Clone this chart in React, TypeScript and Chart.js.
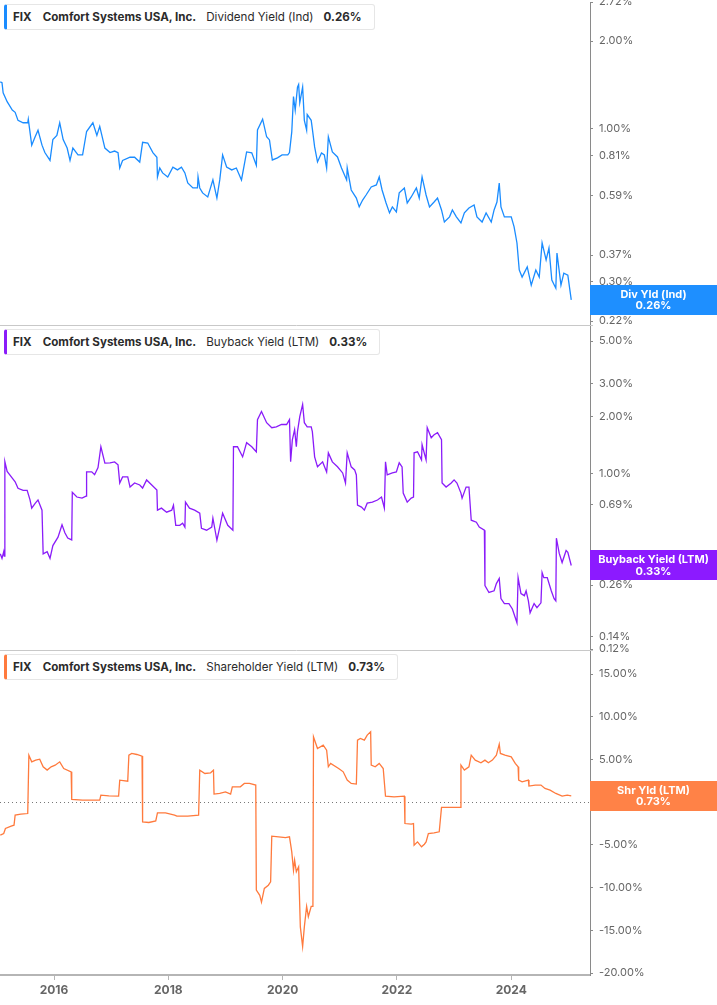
import React, { useEffect, useRef } from 'react';
import { Chart, registerables } from 'chart.js';

Chart.register(...registerables);

// ---- Data (decimal year, value in %) ----
const yearTicks = [2016, 2018, 2020, 2022, 2024];

const dividendYield: [number, number][] = [
  [2015.06, 1.45], [2015.09, 1.44], [2015.11, 1.33], [2015.18, 1.24], [2015.27, 1.16], [2015.32, 1.14],
  [2015.37, 1.07], [2015.46, 1.05], [2015.54, 1.05], [2015.55, 1.08], [2015.61, 0.88], [2015.67, 0.94],
  [2015.72, 0.99], [2015.79, 0.88], [2015.84, 0.83], [2015.93, 0.78], [2015.98, 0.92], [2016.05, 0.95],
  [2016.10, 1.05], [2016.16, 0.92], [2016.23, 0.86], [2016.28, 0.78], [2016.33, 0.86], [2016.42, 0.815],
  [2016.50, 0.815], [2016.57, 0.98], [2016.68, 1.05], [2016.75, 0.95], [2016.80, 1.02], [2016.89, 0.86],
  [2016.98, 0.83], [2017.06, 0.84], [2017.12, 0.83], [2017.15, 0.735], [2017.20, 0.78], [2017.33, 0.80],
  [2017.41, 0.80], [2017.50, 0.77], [2017.55, 0.90], [2017.64, 0.895], [2017.73, 0.83], [2017.80, 0.80],
  [2017.81, 0.685], [2017.85, 0.735], [2017.90, 0.707], [2017.99, 0.685], [2018.08, 0.74], [2018.16, 0.724],
  [2018.23, 0.74], [2018.29, 0.707], [2018.34, 0.653], [2018.43, 0.628], [2018.51, 0.628], [2018.52, 0.685],
  [2018.55, 0.628], [2018.60, 0.604], [2018.69, 0.585], [2018.78, 0.669], [2018.85, 0.58], [2018.90, 0.669],
  [2018.95, 0.815], [2019.02, 0.741], [2019.11, 0.724], [2019.19, 0.735], [2019.28, 0.669], [2019.37, 0.834],
  [2019.46, 0.828], [2019.54, 0.75], [2019.56, 0.992], [2019.65, 1.08], [2019.72, 0.94], [2019.77, 0.917],
  [2019.82, 0.783], [2019.91, 0.796], [2019.99, 0.815], [2020.09, 0.815], [2020.12, 0.83], [2020.16, 0.977],
  [2020.19, 1.29], [2020.22, 1.16], [2020.26, 1.39], [2020.28, 1.42], [2020.30, 1.23], [2020.35, 1.39],
  [2020.38, 1.07], [2020.42, 0.99], [2020.43, 1.12], [2020.50, 1.07], [2020.52, 1.00], [2020.56, 0.868],
  [2020.61, 0.771], [2020.68, 0.828], [2020.73, 0.815], [2020.77, 0.735], [2020.80, 0.939], [2020.87, 0.834],
  [2020.96, 0.802], [2021.03, 0.735], [2021.12, 0.669], [2021.13, 0.735], [2021.20, 0.618], [2021.29, 0.58],
  [2021.34, 0.541], [2021.40, 0.571], [2021.46, 0.594], [2021.55, 0.633], [2021.64, 0.643], [2021.69, 0.685],
  [2021.74, 0.618], [2021.81, 0.558], [2021.87, 0.516], [2021.92, 0.541], [2021.99, 0.52], [2022.04, 0.604],
  [2022.13, 0.628], [2022.18, 0.558], [2022.25, 0.585], [2022.34, 0.628], [2022.39, 0.58], [2022.44, 0.685],
  [2022.51, 0.594], [2022.57, 0.541], [2022.65, 0.562], [2022.71, 0.58], [2022.78, 0.528], [2022.83, 0.48],
  [2022.92, 0.50], [2022.97, 0.528], [2023.04, 0.50], [2023.12, 0.477], [2023.18, 0.516], [2023.26, 0.536],
  [2023.35, 0.549], [2023.40, 0.50], [2023.49, 0.48], [2023.56, 0.516], [2023.65, 0.48], [2023.70, 0.528],
  [2023.75, 0.562], [2023.79, 0.653], [2023.82, 0.541], [2023.88, 0.50], [2023.93, 0.50], [2024.00, 0.50],
  [2024.05, 0.462], [2024.10, 0.407], [2024.14, 0.329], [2024.19, 0.311], [2024.28, 0.337], [2024.35, 0.292],
  [2024.43, 0.329], [2024.49, 0.311], [2024.54, 0.407], [2024.61, 0.356], [2024.66, 0.391], [2024.71, 0.304],
  [2024.78, 0.285], [2024.80, 0.376], [2024.87, 0.292], [2024.92, 0.321], [2024.99, 0.316], [2025.05, 0.26],
];

const buybackYield: [number, number][] = [
  [2015.06, 0.38], [2015.09, 0.36], [2015.12, 0.39], [2015.13, 0.37], [2015.14, 1.16], [2015.18, 1.03],
  [2015.27, 0.95], [2015.32, 0.91], [2015.37, 0.84], [2015.46, 0.82], [2015.53, 0.82], [2015.58, 0.73],
  [2015.61, 0.66], [2015.67, 0.70], [2015.72, 0.73], [2015.79, 0.645], [2015.81, 0.38], [2015.88, 0.39],
  [2015.93, 0.36], [2015.98, 0.42], [2016.07, 0.465], [2016.14, 0.54], [2016.19, 0.49], [2016.24, 0.46],
  [2016.31, 0.45], [2016.32, 0.80], [2016.40, 0.756], [2016.49, 0.746], [2016.56, 0.765], [2016.57, 1.025],
  [2016.66, 1.025], [2016.71, 0.99], [2016.77, 1.08], [2016.82, 1.39], [2016.89, 1.14], [2016.98, 1.144],
  [2017.06, 1.157], [2017.12, 1.116], [2017.15, 0.896], [2017.20, 0.964], [2017.29, 0.964], [2017.33, 0.853],
  [2017.41, 0.896], [2017.50, 0.875], [2017.55, 0.843], [2017.62, 0.93], [2017.71, 0.875], [2017.80, 0.823],
  [2017.81, 0.645], [2017.88, 0.661], [2017.97, 0.629], [2018.06, 0.645], [2018.09, 0.685], [2018.13, 0.537],
  [2018.20, 0.537], [2018.25, 0.551], [2018.29, 0.525], [2018.30, 0.711], [2018.37, 0.661], [2018.46, 0.645],
  [2018.55, 0.622], [2018.58, 0.518], [2018.67, 0.506], [2018.76, 0.525], [2018.78, 0.585], [2018.85, 0.448],
  [2018.90, 0.525], [2018.95, 0.622], [2019.04, 0.537], [2019.13, 0.506], [2019.14, 1.39], [2019.21, 1.39],
  [2019.30, 1.23], [2019.37, 1.46], [2019.46, 1.39], [2019.54, 1.307], [2019.56, 1.93], [2019.63, 2.13],
  [2019.72, 1.86], [2019.81, 1.75], [2019.89, 1.77], [2019.98, 1.82], [2020.07, 1.82], [2020.12, 1.93],
  [2020.14, 1.16], [2020.17, 1.51], [2020.21, 1.71], [2020.24, 1.39], [2020.26, 1.67], [2020.30, 2.00],
  [2020.35, 2.32], [2020.38, 1.86], [2020.43, 1.77], [2020.50, 1.77], [2020.52, 1.67], [2020.56, 1.23],
  [2020.61, 1.09], [2020.70, 1.157], [2020.77, 1.025], [2020.80, 1.29], [2020.87, 1.157], [2020.96, 1.09],
  [2021.05, 1.012], [2021.10, 0.896], [2021.13, 1.29], [2021.20, 1.09], [2021.26, 1.05], [2021.29, 0.988],
  [2021.31, 0.685], [2021.38, 0.669], [2021.43, 0.645], [2021.48, 0.702], [2021.57, 0.711], [2021.66, 0.729],
  [2021.73, 0.756], [2021.78, 0.661], [2021.80, 1.157], [2021.83, 0.988], [2021.92, 1.012], [2021.99, 1.025],
  [2022.04, 1.144], [2022.09, 1.089], [2022.11, 0.793], [2022.18, 0.711], [2022.25, 0.746], [2022.29, 0.756],
  [2022.30, 1.291], [2022.36, 1.307], [2022.43, 1.186], [2022.44, 1.424], [2022.51, 1.186], [2022.53, 1.75],
  [2022.60, 1.55], [2022.65, 1.608], [2022.71, 1.648], [2022.78, 1.513], [2022.79, 0.896], [2022.86, 0.853],
  [2022.95, 0.896], [2023.00, 0.93], [2023.05, 0.896], [2023.12, 0.793], [2023.14, 0.746], [2023.21, 0.853],
  [2023.26, 0.853], [2023.30, 0.571], [2023.39, 0.557], [2023.44, 0.525], [2023.53, 0.506], [2023.54, 0.259],
  [2023.61, 0.238], [2023.70, 0.243], [2023.74, 0.265], [2023.79, 0.282], [2023.82, 0.221], [2023.88, 0.208],
  [2023.96, 0.208], [2024.02, 0.195], [2024.10, 0.165], [2024.12, 0.285], [2024.17, 0.235], [2024.23, 0.229],
  [2024.26, 0.243], [2024.30, 0.215], [2024.33, 0.186], [2024.40, 0.208], [2024.45, 0.198], [2024.52, 0.21],
  [2024.54, 0.303], [2024.57, 0.285], [2024.63, 0.285], [2024.70, 0.243], [2024.75, 0.221], [2024.78, 0.215],
  [2024.79, 0.459], [2024.84, 0.382], [2024.89, 0.342], [2024.96, 0.396], [2024.99, 0.387], [2025.05, 0.33],
];

const shareholderYield: [number, number][] = [
  [2015.06, -3.86], [2015.12, -3.67], [2015.15, -3.08], [2015.25, -2.81], [2015.30, -2.70], [2015.32, -1.52],
  [2015.42, -1.41], [2015.54, -1.33], [2015.56, 5.5], [2015.61, 4.72], [2015.68, 4.92], [2015.75, 5.03],
  [2015.81, 4.14], [2015.88, 3.75], [2015.95, 4.14], [2016.02, 4.33], [2016.10, 4.72], [2016.17, 3.94],
  [2016.30, 3.55], [2016.31, 0.31], [2016.50, 0.23], [2016.80, 0.23], [2016.82, 0.82], [2016.96, 0.74],
  [2017.13, 0.70], [2017.15, 2.58], [2017.29, 2.46], [2017.31, 5.50], [2017.36, 5.70], [2017.45, 5.58],
  [2017.54, 5.39], [2017.55, -2.30], [2017.66, -2.38], [2017.78, -2.19], [2017.81, -1.25], [2017.95, -1.25],
  [2018.11, -1.52], [2018.15, -1.64], [2018.34, -1.64], [2018.53, -1.52], [2018.55, 3.75], [2018.64, 3.36],
  [2018.74, 3.44], [2018.79, 3.75], [2018.80, 0.94], [2018.90, 1.02], [2019.00, 1.21], [2019.09, 0.94],
  [2019.12, 1.80], [2019.26, 1.80], [2019.33, 2.19], [2019.42, 2.19], [2019.53, 2.0], [2019.54, -10.3],
  [2019.60, -10.9], [2019.63, -11.7], [2019.68, -10.1], [2019.75, -9.72], [2019.79, -9.33], [2019.81, -3.98],
  [2019.93, -4.06], [2020.05, -4.14], [2020.12, -4.06], [2020.16, -5.82], [2020.19, -7.96], [2020.21, -6.79],
  [2020.24, -8.15], [2020.28, -7.57], [2020.31, -14.6], [2020.35, -16.9], [2020.38, -14.6], [2020.42, -12.2],
  [2020.45, -13.4], [2020.50, -12.2], [2020.53, -12.2], [2020.54, 7.65], [2020.61, 6.28], [2020.71, 6.67],
  [2020.77, 6.09], [2020.80, 4.14], [2020.84, 4.53], [2020.98, 3.94], [2021.06, 3.55], [2021.13, 2.58],
  [2021.20, 2.19], [2021.29, 2.11], [2021.31, 7.26], [2021.36, 7.46], [2021.43, 7.26], [2021.48, 7.85],
  [2021.54, 8.24], [2021.55, 4.33], [2021.62, 4.14], [2021.69, 4.53], [2021.76, 3.94], [2021.80, 0.70],
  [2021.95, 0.62], [2022.13, 0.70], [2022.14, -2.50], [2022.25, -2.58], [2022.29, -2.50], [2022.30, -5.04],
  [2022.36, -4.65], [2022.43, -5.23], [2022.48, -4.92], [2022.51, -4.65], [2022.55, -3.67], [2022.65, -3.59],
  [2022.74, -3.47], [2022.78, -0.62], [2022.95, -0.62], [2023.11, -0.62], [2023.12, 4.33], [2023.18, 3.75],
  [2023.26, 4.14], [2023.30, 5.50], [2023.37, 4.92], [2023.47, 4.61], [2023.54, 4.92], [2023.60, 4.61],
  [2023.67, 4.92], [2023.74, 5.50], [2023.79, 6.79], [2023.81, 5.70], [2023.89, 5.50], [2024.00, 5.31],
  [2024.07, 4.53], [2024.12, 4.14], [2024.13, 2.58], [2024.19, 2.38], [2024.30, 2.58], [2024.31, 1.88],
  [2024.42, 2.0], [2024.52, 2.0], [2024.59, 1.60], [2024.68, 1.41], [2024.78, 1.02], [2024.89, 0.70],
  [2024.98, 0.82], [2025.05, 0.73],
];

const dividendTicks = [0.22, 0.30, 0.37, 0.59, 0.81, 1.0, 2.0, 2.72];
const buybackTicks = [0.12, 0.14, 0.26, 0.37, 0.69, 1.0, 2.0, 3.0, 5.0];
const shareholderTicks = [-20, -15, -10, -5, 0, 5, 10, 15];

const panels = [
  { metric: 'Dividend Yield (Ind)', tag: 'Div Yld (Ind)', color: '#1a8cff', tagColor: '#1e8fff' },
  { metric: 'Buyback Yield (LTM)', tag: 'Buyback Yield (LTM)', color: '#8a1cf9', tagColor: '#8c1aff' },
  { metric: 'Shareholder Yield (LTM)', tag: 'Shr Yld (LTM)', color: '#ff7a3d', tagColor: '#ff8247' },
];

const X_MIN = 2015.055;
const X_MAX = 2025.378;
const FONT = 'Inter, "DejaVu Sans", sans-serif';

const toPoints = (arr: [number, number][]) => arr.map(([x, y]) => ({ x, y }));
const pct = (v: number) => `${v.toFixed(2)}%`;

const yAxisBase = (ticks: number[]) => ({
  position: 'right' as const,
  stack: 'panels',
  afterBuildTicks: (s: any) => { s.ticks = ticks.map((v) => ({ value: v })); },
  afterFit: (s: any) => { s.width = 127; s.paddingTop = 0; s.paddingBottom = 0; },
  grid: { drawOnChartArea: false, drawTicks: true, tickLength: 3, color: '#8a8a8a' },
  border: { color: '#8a8a8a', width: 1 },
  ticks: {
    autoSkip: false,
    padding: 6,
    color: '#666',
    font: { family: FONT, size: 11 },
    callback: (v: any) => pct(Number(v)),
  },
});

export default function App() {
  const ref = useRef<HTMLCanvasElement>(null);

  useEffect(() => {
    const prevMargin = document.body.style.margin;
    document.body.style.margin = '0';

    const overlay = {
      id: 'overlay',
      beforeDatasetsDraw(chart: any) {
        const { ctx, chartArea } = chart;
        const ys = chart.scales.yShr;
        const z = Math.round(ys.getPixelForValue(0)) + 0.5;
        ctx.save();
        ctx.strokeStyle = '#777';
        ctx.lineWidth = 1;
        ctx.setLineDash([1, 3]);
        ctx.beginPath();
        ctx.moveTo(chartArea.left, z);
        ctx.lineTo(chartArea.right + 12, z);
        ctx.stroke();
        ctx.restore();
      },
      afterDraw(chart: any) {
        const { ctx, chartArea } = chart;
        const sDiv = chart.scales.yDiv;
        const sBuy = chart.scales.yBuy;
        const sShr = chart.scales.yShr;
        ctx.save();
        // panel separators
        ctx.strokeStyle = '#c8c8c8';
        ctx.lineWidth = 1;
        [sDiv.bottom, sBuy.bottom].forEach((yy: number) => {
          const y = Math.round(yy) + 0.5;
          ctx.beginPath();
          ctx.moveTo(0, y);
          ctx.lineTo(chartArea.right + 3, y);
          ctx.stroke();
        });
        // value tags
        const lasts = [dividendYield, buybackYield, shareholderYield].map((a) => a[a.length - 1][1]);
        [sDiv, sBuy, sShr].forEach((s: any, i: number) => {
          const yc = s.getPixelForValue(lasts[i]);
          const x0 = chartArea.right;
          const w = chart.width - x0;
          ctx.fillStyle = panels[i].tagColor;
          ctx.fillRect(x0, Math.round(yc - 15), w, 30);
          ctx.fillStyle = '#fff';
          ctx.font = `bold 11px ${FONT}`;
          ctx.textAlign = 'center';
          ctx.textBaseline = 'middle';
          ctx.fillText(panels[i].tag, x0 + w / 2, yc - 5.5);
          ctx.fillText(pct(lasts[i]), x0 + w / 2, yc + 6);
        });
        ctx.restore();
      },
    };

    const lineDs = (data: [number, number][], axis: string, color: string) => ({
      data: toPoints(data),
      yAxisID: axis,
      borderColor: color,
      borderWidth: 1.3,
      pointRadius: 0,
      tension: 0,
      fill: false,
    });

    const chart = new Chart(ref.current as HTMLCanvasElement, {
      type: 'line',
      data: {
        datasets: [
          lineDs(dividendYield, 'yDiv', panels[0].color),
          lineDs(buybackYield, 'yBuy', panels[1].color),
          lineDs(shareholderYield, 'yShr', panels[2].color),
        ],
      },
      options: {
        animation: false,
        responsive: false,
        layout: { padding: { top: 2, left: 0, right: 0, bottom: 0 } },
        plugins: { legend: { display: false }, tooltip: { enabled: false } },
        events: [],
        scales: {
          x: {
            type: 'linear',
            position: 'bottom',
            min: X_MIN,
            max: X_MAX,
            afterBuildTicks: (s: any) => { s.ticks = yearTicks.map((v) => ({ value: v })); },
            afterFit: (s: any) => { s.height = 30; s.paddingLeft = 0; s.paddingRight = 0; },
            grid: { drawOnChartArea: false, drawTicks: true, tickLength: 5, color: '#b5b5b5' },
            border: { color: '#b5b5b5', width: 2 },
            ticks: {
              autoSkip: false,
              maxRotation: 0,
              padding: 3,
              color: '#666',
              font: { family: FONT, size: 12, weight: 'bold' },
              callback: (v: any) => String(v),
            },
          },
          yDiv: {
            type: 'logarithmic',
            min: 0.2132,
            max: 2.72,
            stackWeight: 323,
            ...yAxisBase(dividendTicks),
          },
          yBuy: {
            type: 'logarithmic',
            min: 0.1186,
            max: 6.07,
            stackWeight: 325,
            ...yAxisBase(buybackTicks),
          },
          yShr: {
            type: 'linear',
            min: -20.23,
            max: 17.81,
            stackWeight: 325,
            ...yAxisBase(shareholderTicks),
          },
        } as any,
      },
      plugins: [overlay],
    } as any);

    return () => {
      chart.destroy();
      document.body.style.margin = prevMargin;
    };
  }, []);

  const legendTops = [4, 329, 654];
  const legendValues = ['0.26%', '0.33%', '0.73%'];

  return (
    <div style={{ position: 'relative', width: 717, height: 1005, overflow: 'hidden', background: '#fff' }}>
      <canvas ref={ref} width={717} height={1005} style={{ position: 'absolute', left: 0, top: 0 }} />
      {panels.map((p, i) => (
        <div
          key={p.metric}
          style={{
            position: 'absolute',
            left: 4,
            top: legendTops[i],
            height: 26,
            boxSizing: 'border-box',
            display: 'flex',
            alignItems: 'center',
            background: '#fff',
            border: '1px solid #e6e6e6',
            borderLeft: `3px solid ${p.color}`,
            borderRadius: 3,
            padding: '0 12px 0 6px',
            fontFamily: FONT,
            fontSize: 11.6,
            color: '#2b2b2b',
            whiteSpace: 'nowrap',
          }}
        >
          <span style={{ fontWeight: 700, marginRight: 11 }}>FIX</span>
          <span style={{ fontWeight: 700, marginRight: 10 }}>Comfort Systems USA, Inc.</span>
          <span style={{ fontWeight: 400, marginRight: 10 }}>{p.metric}</span>
          <span style={{ fontWeight: 700 }}>{legendValues[i]}</span>
        </div>
      ))}
    </div>
  );
}
